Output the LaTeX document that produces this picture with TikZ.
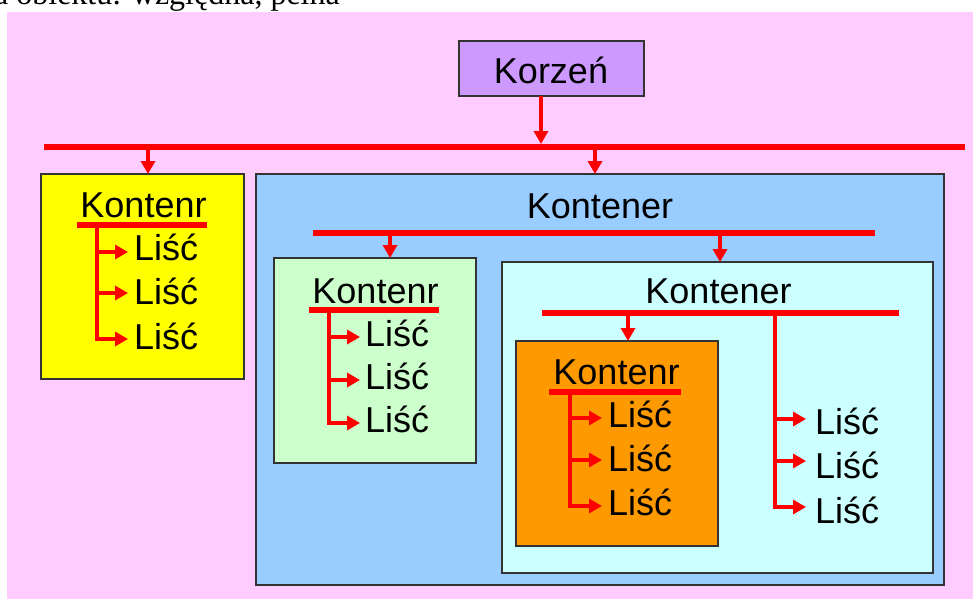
\documentclass[tikz,border=0pt]{standalone}
\usepackage{fontspec}
\setmainfont{Liberation Sans}
\newfontfamily\capfont{Liberation Serif}
\usetikzlibrary{arrows.meta}
\definecolor{bgpink}{HTML}{FFCCFF}
\definecolor{rootc}{HTML}{CC99FF}
\definecolor{yellowc}{HTML}{FFFF00}
\definecolor{bluec}{HTML}{99CCFF}
\definecolor{greenc}{HTML}{CCFFCC}
\definecolor{cyanc}{HTML}{CCFFFF}
\definecolor{orangec}{HTML}{FF9900}
\definecolor{linec}{HTML}{FF0000}
\definecolor{boxline}{HTML}{333333}
\begin{document}
\begin{tikzpicture}[x=1pt,y=-1pt,
  box/.style={draw=boxline, line width=1.2pt, inner sep=0pt, outer sep=0pt, anchor=north west},
  lbl/.style={font=\fontsize{36}{40}\selectfont, inner sep=0pt, anchor=base},
  leaf/.style={lbl, anchor=base west},
  bar/.style={draw=linec, line width=6pt},
  stem/.style={draw=linec, line width=4pt},
  arr/.style={stem, -{Triangle[length=13pt,width=14pt]}}]
\useasboundingbox (0,0) rectangle (973,599);
\fill[bgpink] (7,12) rectangle (973,599);
\node[font=\capfont\fontsize{32}{36}\selectfont, anchor=base east, inner sep=0pt] (caption) at (340,5) {a obiektu: względna, pełna};

% boxes
\node[box, fill=rootc, minimum width=185pt, minimum height=55pt] (korzen) at (459,41) {};
\node[box, fill=yellowc, minimum width=203pt, minimum height=205pt] (ybox) at (41,174) {};
\node[box, fill=bluec, minimum width=688pt, minimum height=411pt] (bbox) at (256,174) {};
\node[box, fill=greenc, minimum width=202pt, minimum height=205pt] (gbox) at (274,258) {};
\node[box, fill=cyanc, minimum width=431pt, minimum height=311pt] (cbox) at (502,262) {};
\node[box, fill=orangec, minimum width=202pt, minimum height=205pt] (obox) at (516,341) {};

% titles
\node[lbl] (tk) at (551,84) {Korzeń};
\node[lbl] (ty) at (143.5,217) {Kontenr};
\node[lbl] (tb) at (600,218) {Kontener};
\node[lbl] (tg) at (375.5,303) {Kontenr};
\node[lbl] (tc) at (718.5,303) {Kontener};
\node[lbl] (to) at (616.5,384) {Kontenr};

% leaves
\node[leaf] (y1) at (134,260) {Liść};
\node[leaf] (y2) at (134,304) {Liść};
\node[leaf] (y3) at (134,349) {Liść};
\node[leaf] (g1) at (365,346) {Liść};
\node[leaf] (g2) at (365,389) {Liść};
\node[leaf] (g3) at (365,432) {Liść};
\node[leaf] (o1) at (608,427) {Liść};
\node[leaf] (o2) at (608,471) {Liść};
\node[leaf] (o3) at (608,515) {Liść};
\node[leaf] (r1) at (815,434) {Liść};
\node[leaf] (r2) at (815,478) {Liść};
\node[leaf] (r3) at (815,523) {Liść};

% main bar
\coordinate (mainL) at (44,147);
\coordinate (mainR) at (965,147);
\draw[bar] (mainL) -- (mainR);
\coordinate (rootdrop) at (541,144);
\draw[arr] (korzen.south -| rootdrop) -- (rootdrop);
\coordinate (dy) at (148,147);
\draw[arr] (dy) -- (dy |- ybox.north);
\coordinate (db) at (595,147);
\draw[arr] (db) -- (db |- bbox.north);

% blue bar
\coordinate (bL) at (313,233);
\coordinate (bR) at (875,233);
\draw[bar] (bL) -- (bR);
\coordinate (dg) at (390,233);
\draw[arr] (dg) -- (dg |- gbox.north);
\coordinate (dc) at (720,233);
\draw[arr] (dc) -- (dc |- cbox.north);

% cyan bar
\coordinate (cL) at (542,313);
\coordinate (cR) at (899,313);
\draw[bar] (cL) -- (cR);
\coordinate (do) at (628,313);
\draw[arr] (do) -- (do |- obox.north);
\coordinate (cv) at (775,313);
\draw[stem] (cv) -- (775,509);
\draw[arr] (773,419) -- (806,419);
\draw[arr] (773,461) -- (806,461);
\draw[arr] (773,507) -- (806,507);

% yellow bar
\coordinate (yL) at (77,225);
\coordinate (yR) at (207,225);
\draw[bar] (yL) -- (yR);
\draw[stem] (97,225) -- (97,341);
\draw[arr] (95,252) -- (128,252);
\draw[arr] (95,293) -- (128,293);
\draw[arr] (95,339) -- (128,339);

% green bar
\coordinate (gL) at (309,310);
\coordinate (gR) at (439,310);
\draw[bar] (gL) -- (gR);
\draw[stem] (329,310) -- (329,425);
\draw[arr] (327,337) -- (360,337);
\draw[arr] (327,380) -- (360,380);
\draw[arr] (327,423) -- (360,423);

% orange bar
\coordinate (oL) at (549,392);
\coordinate (oR) at (681,392);
\draw[bar] (oL) -- (oR);
\draw[stem] (570,392) -- (570,508);
\draw[arr] (568,418) -- (602,418);
\draw[arr] (568,460) -- (602,460);
\draw[arr] (568,506) -- (602,506);
\end{tikzpicture}
\end{document}
